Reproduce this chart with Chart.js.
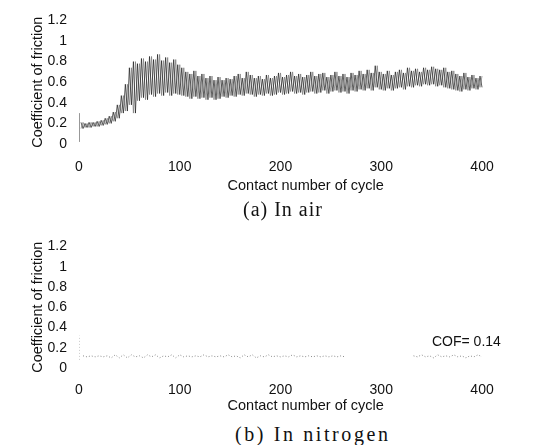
<!DOCTYPE html>
<html>
<head>
<meta charset="utf-8">
<script src="https://cdn.jsdelivr.net/npm/chart.js@4"></script>
<style>
    html, body { margin: 0; padding: 0; background: #fff; }
    body { width: 559px; height: 445px; position: relative; overflow: hidden; }
    .plot { position: absolute; left: 0; width: 559px; }
    .caption { position: absolute; font-family: "Liberation Serif", "Times New Roman", serif; font-size: 20px; color: #111; white-space: nowrap; }
    .note { position: absolute; font-family: "Liberation Sans", Arial, sans-serif; font-size: 14px; color: #111; }
</style>
</head>
<body>
<div class="plot" style="top:0;height:200px;"><canvas id="air-chart"></canvas></div>
<div class="caption" style="left:243px;top:198px;letter-spacing:1px;">(a) In air</div>
<div class="plot" style="top:226px;height:195px;"><canvas id="n2-chart"></canvas></div>
<div class="caption" style="left:235px;top:423px;letter-spacing:2.6px;">(b) In nitrogen</div>
<div class="note" style="left:432px;top:333px;">COF= 0.14</div>
<script>
// x ticks / y ticks
const xTicks = [0, 100, 200, 300, 400];
const yTicks = [0, 0.2, 0.4, 0.6, 0.8, 1, 1.2];

// start-up spike at cycle 0 [low, high]
const airSpike = [0.02, 0.30];
const n2Spike = [0.08, 0.32];

// in air: band per 4 cycles (cycles 4..400), upper and lower envelope
const airStep = 4;
const airHigh = [
    0.21, 0.20, 0.21, 0.21, 0.22, 0.23, 0.25, 0.27, 0.31, 0.38,
    0.47, 0.58, 0.74, 0.80, 0.78, 0.83, 0.80, 0.85, 0.82, 0.87,
    0.81, 0.84, 0.79, 0.82, 0.77, 0.74, 0.70, 0.68, 0.71, 0.66,
    0.68, 0.64, 0.66, 0.62, 0.65, 0.62, 0.64, 0.63, 0.66, 0.68,
    0.64, 0.70, 0.67, 0.64, 0.66, 0.63, 0.67, 0.64, 0.66, 0.69,
    0.65, 0.67, 0.70, 0.66, 0.68, 0.65, 0.67, 0.70, 0.66, 0.68,
    0.69, 0.65, 0.67, 0.70, 0.66, 0.68, 0.65, 0.69, 0.67, 0.71,
    0.68, 0.72, 0.69, 0.76, 0.70, 0.68, 0.71, 0.67, 0.70, 0.72,
    0.69, 0.74, 0.71, 0.73, 0.70, 0.74, 0.72, 0.75, 0.73, 0.72,
    0.74, 0.70, 0.71, 0.68, 0.66, 0.69, 0.65, 0.67, 0.64, 0.66
];
const airLow = [
    0.15, 0.16, 0.16, 0.17, 0.17, 0.18, 0.19, 0.20, 0.22, 0.25,
    0.30, 0.32, 0.38, 0.30, 0.42, 0.45, 0.43, 0.48, 0.46, 0.49,
    0.47, 0.50, 0.47, 0.49, 0.48, 0.47, 0.46, 0.44, 0.46, 0.44,
    0.45, 0.43, 0.45, 0.43, 0.44, 0.46, 0.45, 0.47, 0.46, 0.48,
    0.47, 0.49, 0.48, 0.46, 0.48, 0.47, 0.49, 0.47, 0.48, 0.50,
    0.48, 0.49, 0.51, 0.49, 0.50, 0.48, 0.50, 0.51, 0.49, 0.50,
    0.52, 0.49, 0.51, 0.52, 0.50, 0.51, 0.49, 0.52, 0.51, 0.53,
    0.52, 0.54, 0.52, 0.55, 0.53, 0.52, 0.54, 0.52, 0.54, 0.55,
    0.53, 0.56, 0.55, 0.57, 0.56, 0.58, 0.57, 0.58, 0.56, 0.57,
    0.55, 0.54, 0.53, 0.52, 0.51, 0.53, 0.52, 0.54, 0.53, 0.55
];

// in nitrogen: band per 8 cycles (cycles 8..400), null = no trace
const n2Step = 8;
const n2High = [
    0.12, 0.12, 0.12, 0.12, 0.13, 0.13, 0.13, 0.12, 0.13, 0.13,
    0.12, 0.13, 0.13, 0.12, 0.12, 0.13, 0.12, 0.12, 0.13, 0.12,
    0.13, 0.13, 0.12, 0.13, 0.12, 0.12, 0.13, 0.12, 0.12, 0.12,
    0.12, 0.12, 0.12, null, null, null, null, null, null, null,
    null, 0.12, 0.13, 0.12, 0.13, 0.12, 0.13, 0.12, 0.12, 0.13
];
const n2Low = [
    0.11, 0.11, 0.11, 0.10, 0.10, 0.10, 0.11, 0.10, 0.11, 0.10,
    0.11, 0.10, 0.11, 0.11, 0.11, 0.11, 0.11, 0.11, 0.11, 0.10,
    0.11, 0.10, 0.11, 0.11, 0.11, 0.11, 0.11, 0.11, 0.11, 0.11,
    0.11, 0.11, 0.11, null, null, null, null, null, null, null,
    null, 0.11, 0.11, 0.10, 0.11, 0.11, 0.11, 0.10, 0.11, 0.11
];

const FONT = '"Liberation Sans", Arial, sans-serif';

// trace that swings between the envelopes; flip=true starts at the low side
function zigzag(high, low, step, flip) {
    const pts = [];
    high.forEach((h, i) => {
        const x = step / 2 + i * step;
        if (h === null) {
            pts.push({ x, y: null });
            return;
        }
        const a = flip ? low[i] : h;
        const b = flip ? h : low[i];
        pts.push({ x, y: a });
        pts.push({ x: x + step / 2, y: b });
    });
    return pts;
}

function makeChart(id, cfg) {
    const canvas = document.getElementById(id);
    const traces = [{ flip: false, color: cfg.color }];
    if (cfg.mesh) traces.push({ flip: true, color: cfg.meshColor });
    return new Chart(canvas.getContext('2d'), {
        type: 'line',
        data: {
            datasets: [{
                data: [{ x: 0, y: cfg.spike[0] }, { x: 0, y: cfg.spike[1] }],
                borderColor: cfg.spikeColor,
                borderWidth: 1,
                borderDash: cfg.dash,
                pointRadius: 0
            }, ...traces.map(t => ({
                data: zigzag(cfg.high, cfg.low, cfg.step, t.flip),
                borderColor: t.color,
                borderWidth: cfg.width,
                borderDash: cfg.dash,
                pointRadius: 0,
                spanGaps: false,
                tension: 0
            }))]
        },
        options: {
            responsive: true,
            maintainAspectRatio: false,
            animation: false,
            layout: { padding: { top: 15, right: 26.6, left: 0, bottom: 0 } },
            plugins: { legend: { display: false }, tooltip: { enabled: false } },
            scales: {
                x: {
                    type: 'linear',
                    min: 0,
                    max: 450,
                    afterBuildTicks: s => { s.ticks = xTicks.map(v => ({ value: v })); },
                    afterFit: s => { s.height = cfg.xHeight; },
                    grid: { display: false, drawTicks: false },
                    border: { display: false },
                    ticks: { padding: cfg.xPad, maxRotation: 0, color: '#111', font: { family: FONT, size: 14 } },
                    title: {
                        display: true,
                        text: 'Contact number of cycle',
                        color: '#111',
                        font: { family: FONT, size: 14.5 },
                        padding: { top: 0, bottom: cfg.titlePad }
                    }
                },
                y: {
                    min: 0,
                    max: 1.2,
                    afterBuildTicks: s => { s.ticks = yTicks.map(v => ({ value: v })); },
                    afterFit: s => { s.width = 79; },
                    grid: { display: false, drawTicks: false },
                    border: { display: false },
                    ticks: { padding: 12, color: '#111', font: { family: FONT, size: 14 }, callback: v => String(+v.toFixed(1)) },
                    title: {
                        display: true,
                        text: 'Coefficient of friction',
                        color: '#111',
                        font: { family: FONT, size: 14.5 },
                        padding: { top: 29, bottom: 0 }
                    }
                }
            }
        }
    });
}

makeChart('air-chart', {
    spike: airSpike, spikeColor: '#333', high: airHigh, low: airLow, step: airStep,
    color: '#1a1a1a', mesh: true, meshColor: '#777', width: 0.7, dash: [],
    xHeight: 56, xPad: 14.6, titlePad: 5.3
});

makeChart('n2-chart', {
    spike: n2Spike, spikeColor: '#999', high: n2High, low: n2Low, step: n2Step,
    color: '#8a8a8a', mesh: false, width: 1, dash: [1, 2],
    xHeight: 53, xPad: 13.6, titlePad: 6.3
});
</script>
</body>
</html>
